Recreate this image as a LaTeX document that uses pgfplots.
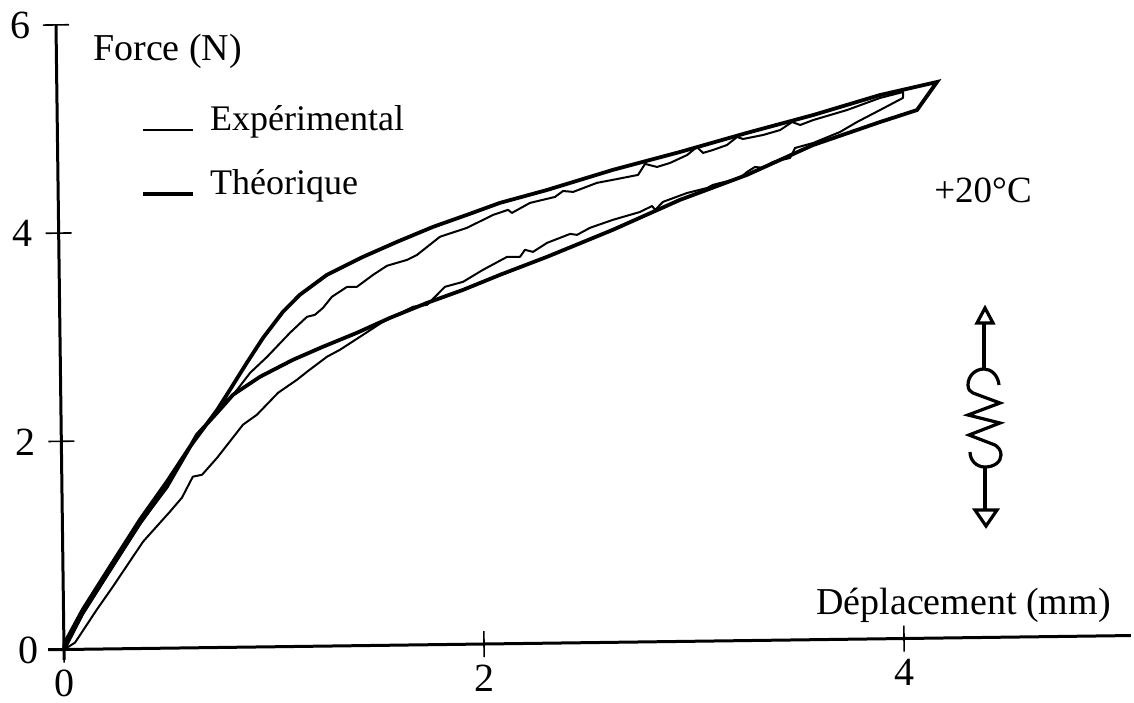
\documentclass[border=0pt]{standalone}
\usepackage{pgfplots}
\usepackage{fontspec}
\setmainfont{Liberation Serif}
\pgfplotsset{compat=1.18}
\pgfplotstableread{
x y
0 0
.053 .065
.159 .380
.237 .599
.383 1.026
.513 1.311
.571 1.444
.624 1.644
.668 1.661
.741 1.823
.866 2.137
.933 2.231
1.035 2.439
1.126 2.562
1.174 2.637
1.270 2.779
1.332 2.844
1.443 2.985
1.539 3.108
1.683 3.248
1.750 3.265
1.836 3.436
1.922 3.481
2.018 3.594
2.134 3.716
2.195 3.714
2.219 3.781
2.257 3.760
2.325 3.845
2.435 3.928
2.468 3.918
2.530 3.984
2.640 4.058
2.769 4.130
2.827 4.186
2.841 4.148
2.879 4.224
2.995 4.307
3.090 4.352
3.118 4.381
3.247 4.444
3.281 4.501
3.319 4.548
3.358 4.538
3.405 4.593
3.487 4.630
3.511 4.725
3.598 4.771
3.726 4.873
3.808 4.967
3.918 5.079
4.028 5.192
4.029 5.249
3.919 5.195
3.761 5.083
3.599 4.991
3.537 4.945
3.499 4.975
3.441 4.899
3.360 4.854
3.264 4.818
3.236 4.838
3.187 4.762
3.120 4.716
3.073 4.689
3.044 4.747
2.997 4.671
2.915 4.597
2.853 4.560
2.796 4.591
2.762 4.486
2.642 4.442
2.566 4.415
2.452 4.331
2.404 4.341
2.365 4.285
2.246 4.231
2.159 4.137
2.141 4.167
2.069 4.120
1.944 3.999
1.815 3.917
1.705 3.746
1.657 3.699
1.561 3.645
1.494 3.559
1.417 3.447
1.370 3.448
1.297 3.354
1.254 3.249
1.215 3.183
1.177 3.165
1.095 3.013
.985 2.786
.903 2.634
.840 2.473
.782 2.331
.743 2.254
.646 2.027
.500 1.551
.370 1.191
.224 .743
.092 .334
0 0
}\experimental
\pgfplotstableread{
x y
0 0
.092 .353
.224 .762
.370 1.210
.500 1.551
.646 2.046
.743 2.254
.820 2.425
.950 2.595
1.108 2.754
1.251 2.875
1.414 3.005
1.572 3.144
1.750 3.284
1.922 3.404
2.099 3.544
2.324 3.711
2.639 3.962
2.960 4.241
3.281 4.473
3.597 4.751
3.918 4.964
4.094 5.074
4.191 5.341
3.919 5.223
3.599 5.039
3.283 4.876
2.963 4.701
2.643 4.538
2.328 4.353
2.103 4.235
1.945 4.124
1.783 4.013
1.611 3.874
1.448 3.734
1.275 3.566
1.145 3.378
1.063 3.216
.967 2.969
.888 2.731
.806 2.474
.744 2.283
.612 1.932
.500 1.599
.370 1.239
.224 .791
.092 .382
.005 .067
0 0
}\theorique
\begin{document}
\fontsize{18.5}{22}\selectfont
\begin{tikzpicture}[x=0.5pt,y=-0.5pt]
\path[use as bounding box] (0,0) rectangle (1134,702);
\begin{axis}[
  at={(32pt,-324.75pt)}, anchor=origin,
  x={(105pt,1.375pt)}, y={(-0.667pt,52.05pt)},
  xmin=-0.076, xmax=5.08, ymin=-0.1, ymax=6,
  axis lines=middle, axis line style={-, line width=1.5pt},
  clip=false,
  xtick={0,2,4}, ytick={0,2,4,6},
  hide obscured x ticks=false, hide obscured y ticks=false,
  tick align=center, major tick length=13pt,
  tick style={black, line width=0.8pt},
  /pgf/number format/assume math mode=true,
  tick label style={font=\fontsize{20}{24}\selectfont},
  xticklabel style={yshift=2.5pt},
  yticklabel style={xshift=0pt},
  xlabel={Déplacement (mm)}, ylabel={Force (N)},
  every axis x label/.style={at={(axis cs:4.285,0.31)},anchor=center,font=\fontsize{19}{22}\selectfont},
  every axis y label/.style={at={(axis cs:0.53,5.73)},anchor=center,font=\fontsize{19}{22}\selectfont},
  legend style={at={(axis cs:0.40,5.26)},anchor=north west,draw=none,fill=none,
    font=\fontsize{18}{22}\selectfont,row sep=13pt,inner sep=0pt,
    /tikz/every odd column/.style={column sep=5.5pt}},
  legend cell align=left,
  legend image code/.code={\draw[#1] (0pt,-4.5pt) -- (25pt,-4.5pt);},
]
\addplot[black,line width=1pt,line join=round] table[x=x,y=y] {\experimental};
\addlegendentry{Expérimental}
\addplot[black,line width=1.9pt,line join=miter] table[x=x,y=y] {\theorique};
\addlegendentry{Théorique}
\end{axis}
\node at (983,190) {+20°C};
\begin{scope}[line width=1.6pt,black]
\draw (984,323) -- (984,369);
\draw[line join=miter] (985,308) -- (993,323) -- (977,323) -- cycle;
\draw (999,385) .. controls (998,375) and (991,369) .. (984,369) .. controls (975,369) and (968,376) .. (968,385) .. controls (968,389) and (970,392) .. (973,393) -- (1000,403) -- (968,415) -- (1000,423) -- (969,435) -- (995,445) .. controls (998,447) and (1001,450) .. (1001,455) .. controls (1001,462) and (994,467) .. (985,467) .. controls (976,467) and (970,460) .. (970,452);
\draw (985,467) -- (985,510);
\draw[line join=miter] (975,510) -- (997,510) -- (986,526) -- cycle;
\end{scope}
\end{tikzpicture}
\end{document}
